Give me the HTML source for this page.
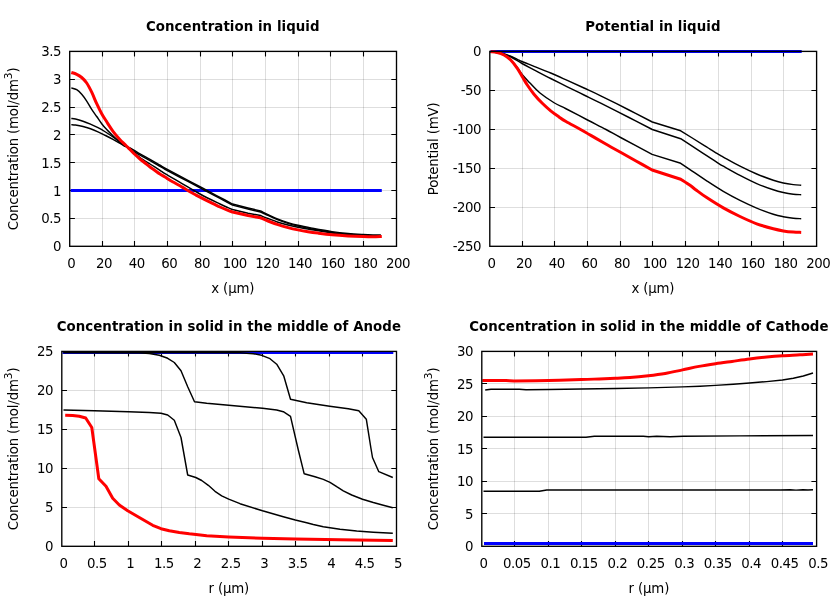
<!DOCTYPE html>
<html lang="en">
<head>
<meta charset="utf-8">
<title>Simulation results</title>
<style>
html,body{margin:0;padding:0;background:#fff;}
body{width:840px;height:600px;overflow:hidden;}
svg{display:block;}
svg text{font-family:"DejaVu Sans", "Liberation Sans", sans-serif;font-size:13.33px;fill:#000;}
svg text.t{letter-spacing:-0.45px;}
svg text.l{letter-spacing:-0.17px;}
svg text.h{letter-spacing:0.07px;}
</style>
</head>
<body>
<svg width="840" height="600" viewBox="0 0 840 600">
<rect width="840" height="600" fill="#fff"/>
<g>
<path d="M102.5,51.40V246.30M134.5,51.40V246.30M167.5,51.40V246.30M200.5,51.40V246.30M232.5,51.40V246.30M265.5,51.40V246.30M298.5,51.40V246.30M330.5,51.40V246.30M363.5,51.40V246.30" stroke="rgba(0,0,0,0.13)" stroke-width="1" fill="none"/>
<path d="M69.70,218.5H396.50M69.70,190.5H396.50M69.70,162.5H396.50M69.70,134.5H396.50M69.70,107.5H396.50M69.70,79.5H396.50" stroke="rgba(0,0,0,0.13)" stroke-width="1" fill="none"/>
<path d="M102.50,246.30v-5.2M102.50,51.40v5.2M134.50,246.30v-5.2M134.50,51.40v5.2M167.50,246.30v-5.2M167.50,51.40v5.2M200.50,246.30v-5.2M200.50,51.40v5.2M232.50,246.30v-5.2M232.50,51.40v5.2M265.50,246.30v-5.2M265.50,51.40v5.2M298.50,246.30v-5.2M298.50,51.40v5.2M330.50,246.30v-5.2M330.50,51.40v5.2M363.50,246.30v-5.2M363.50,51.40v5.2M69.70,218.50h5.2M396.50,218.50h-5.2M69.70,190.50h5.2M396.50,190.50h-5.2M69.70,162.50h5.2M396.50,162.50h-5.2M69.70,134.50h5.2M396.50,134.50h-5.2M69.70,107.50h5.2M396.50,107.50h-5.2M69.70,79.50h5.2M396.50,79.50h-5.2" stroke="#000" stroke-width="1.1" fill="none"/>
<path d="M70.6,190.5H381.8" stroke="#0000ff" stroke-width="3.0" fill="none" stroke-linejoin="round" stroke-linecap="butt"/>
<path d="M71.30,87.90 C72.20,88.20 74.97,88.63 76.70,89.70 C78.43,90.77 80.03,92.40 81.70,94.30 C83.37,96.20 85.03,98.58 86.70,101.10 C88.37,103.62 90.03,106.83 91.70,109.40 C93.37,111.97 95.03,114.12 96.70,116.50 C98.37,118.88 100.03,121.52 101.70,123.70 C103.37,125.88 105.03,127.80 106.70,129.60 C108.37,131.40 110.03,132.90 111.70,134.50 C113.37,136.10 115.03,137.73 116.70,139.20 C118.37,140.67 120.32,142.22 121.70,143.30 C123.08,144.38 123.07,144.20 125.00,145.70 C126.93,147.20 130.80,150.33 133.30,152.30 C135.80,154.27 137.22,155.55 140.00,157.50 C142.78,159.45 146.67,161.87 150.00,164.00 C153.33,166.13 157.50,168.68 160.00,170.30 C162.50,171.92 161.67,171.68 165.00,173.70 C168.33,175.72 174.17,179.02 180.00,182.40 C185.83,185.78 193.33,190.40 200.00,194.00 C206.67,197.60 215.33,201.72 220.00,204.00 C224.67,206.28 225.92,206.78 228.00,207.70 C230.08,208.62 231.75,209.20 232.50,209.50 L248.00,213.20 L260.50,215.50 C261.75,216.00 265.08,217.38 268.00,218.50 C270.92,219.62 274.67,221.12 278.00,222.20 C281.33,223.28 284.67,224.15 288.00,225.00 C291.33,225.85 294.00,226.52 298.00,227.30 C302.00,228.08 306.33,228.75 312.00,229.70 C317.67,230.65 326.00,232.13 332.00,233.00 C338.00,233.87 342.83,234.43 348.00,234.90 C353.17,235.37 357.52,235.62 363.00,235.80 C368.48,235.98 377.92,235.97 380.90,236.00" stroke="#000000" stroke-width="1.45" fill="none" stroke-linejoin="round" stroke-linecap="butt"/>
<path d="M71.30,118.50 C72.00,118.58 73.55,118.55 75.50,119.00 C77.45,119.45 80.50,120.33 83.00,121.20 C85.50,122.07 88.00,123.13 90.50,124.20 C93.00,125.27 95.50,126.30 98.00,127.60 C100.50,128.90 103.00,130.43 105.50,132.00 C108.00,133.57 110.50,135.23 113.00,137.00 C115.50,138.77 118.50,141.17 120.50,142.60 C122.50,144.03 123.42,144.52 125.00,145.60 C126.58,146.68 127.50,147.48 130.00,149.05 C132.50,150.62 136.67,153.13 140.00,155.05 C143.33,156.97 146.67,158.67 150.00,160.55 C153.33,162.43 157.50,164.90 160.00,166.35 C162.50,167.80 161.67,167.43 165.00,169.25 C168.33,171.07 174.17,174.15 180.00,177.25 C185.83,180.35 195.50,185.47 200.00,187.85 C204.50,190.23 203.67,189.78 207.00,191.55 C210.33,193.32 215.75,196.18 220.00,198.45 C224.25,200.72 230.42,204.03 232.50,205.15 L248.00,209.05 L260.50,212.05 C261.75,212.48 265.08,214.07 268.00,215.40 C270.92,216.73 274.67,218.57 278.00,219.90 C281.33,221.23 284.67,222.37 288.00,223.40 C291.33,224.43 294.00,225.18 298.00,226.10 C302.00,227.02 306.33,227.85 312.00,228.90 C317.67,229.95 326.00,231.50 332.00,232.40 C338.00,233.30 342.83,233.82 348.00,234.30 C353.17,234.78 358.83,235.07 363.00,235.30 C367.17,235.53 370.02,235.62 373.00,235.70 C375.98,235.78 379.58,235.78 380.90,235.80" stroke="#000000" stroke-width="1.45" fill="none" stroke-linejoin="round" stroke-linecap="butt"/>
<path d="M71.30,124.60 C72.00,124.67 73.55,124.68 75.50,125.00 C77.45,125.32 80.50,125.87 83.00,126.50 C85.50,127.13 88.00,127.92 90.50,128.80 C93.00,129.68 95.50,130.68 98.00,131.80 C100.50,132.92 103.00,134.23 105.50,135.50 C108.00,136.77 110.50,138.05 113.00,139.40 C115.50,140.75 118.50,142.45 120.50,143.60 C122.50,144.75 123.42,145.58 125.00,146.30 C126.58,147.03 127.50,146.67 130.00,147.95 C132.50,149.22 136.67,152.03 140.00,153.95 C143.33,155.87 146.67,157.57 150.00,159.45 C153.33,161.33 157.50,163.80 160.00,165.25 C162.50,166.70 161.67,166.33 165.00,168.15 C168.33,169.97 174.17,173.05 180.00,176.15 C185.83,179.25 195.50,184.37 200.00,186.75 C204.50,189.13 203.67,188.68 207.00,190.45 C210.33,192.22 215.75,195.08 220.00,197.35 C224.25,199.62 230.42,202.93 232.50,204.05 L248.00,207.95 L260.50,210.95 C261.75,211.68 265.08,213.27 268.00,214.60 C270.92,215.93 274.67,217.77 278.00,219.10 C281.33,220.43 284.67,221.57 288.00,222.60 C291.33,223.63 294.00,224.38 298.00,225.30 C302.00,226.22 306.33,227.05 312.00,228.10 C317.67,229.15 326.00,230.70 332.00,231.60 C338.00,232.50 342.83,233.02 348.00,233.50 C353.17,233.98 358.83,234.27 363.00,234.50 C367.17,234.73 370.02,234.82 373.00,234.90 C375.98,234.98 379.58,234.98 380.90,235.00" stroke="#000000" stroke-width="1.45" fill="none" stroke-linejoin="round" stroke-linecap="butt"/>
<path d="M71.30,72.50 C72.20,72.80 74.97,73.47 76.70,74.30 C78.43,75.13 80.03,76.05 81.70,77.50 C83.37,78.95 85.03,80.55 86.70,83.00 C88.37,85.45 90.03,88.75 91.70,92.20 C93.37,95.65 95.03,100.12 96.70,103.70 C98.37,107.28 100.03,110.68 101.70,113.70 C103.37,116.72 104.82,118.87 106.70,121.80 C108.58,124.73 110.78,128.32 113.00,131.30 C115.22,134.28 118.00,137.50 120.00,139.70 C122.00,141.90 123.33,142.87 125.00,144.50 C126.67,146.13 128.33,147.83 130.00,149.50 C131.67,151.17 133.33,152.92 135.00,154.50 C136.67,156.08 138.33,157.58 140.00,159.00 C141.67,160.42 143.33,161.67 145.00,163.00 C146.67,164.33 148.33,165.75 150.00,167.00 C151.67,168.25 153.33,169.33 155.00,170.50 C156.67,171.67 158.33,172.92 160.00,174.00 C161.67,175.08 163.33,175.95 165.00,177.00 C166.67,178.05 168.33,179.30 170.00,180.30 C171.67,181.30 173.33,182.08 175.00,183.00 C176.67,183.92 178.33,184.83 180.00,185.80 C181.67,186.77 183.33,187.82 185.00,188.80 C186.67,189.78 188.33,190.75 190.00,191.70 C191.67,192.65 193.33,193.58 195.00,194.50 C196.67,195.42 197.50,195.92 200.00,197.20 C202.50,198.48 206.67,200.57 210.00,202.20 C213.33,203.83 217.00,205.65 220.00,207.00 C223.00,208.35 225.92,209.47 228.00,210.30 C230.08,211.13 231.75,211.72 232.50,212.00 L248.00,215.50 L260.50,217.80 C261.75,218.33 265.08,219.85 268.00,221.00 C270.92,222.15 274.67,223.60 278.00,224.70 C281.33,225.80 284.67,226.73 288.00,227.60 C291.33,228.47 294.67,229.22 298.00,229.90 C301.33,230.58 304.67,231.17 308.00,231.70 C311.33,232.23 314.00,232.60 318.00,233.10 C322.00,233.60 327.00,234.23 332.00,234.70 C337.00,235.17 342.83,235.58 348.00,235.90 C353.17,236.22 358.83,236.45 363.00,236.60 C367.17,236.75 369.87,236.82 373.00,236.80 C376.13,236.78 380.33,236.55 381.80,236.50" stroke="#ff0000" stroke-width="3.0" fill="none" stroke-linejoin="round" stroke-linecap="butt"/>
<rect x="69.70" y="51.40" width="326.80" height="194.90" stroke="#000" stroke-width="1.35" fill="none"/>
<text class="t" x="71.30" y="267.80" text-anchor="middle">0</text>
<text class="t" x="103.98" y="267.80" text-anchor="middle">20</text>
<text class="t" x="136.66" y="267.80" text-anchor="middle">40</text>
<text class="t" x="169.34" y="267.80" text-anchor="middle">60</text>
<text class="t" x="202.02" y="267.80" text-anchor="middle">80</text>
<text class="t" x="234.70" y="267.80" text-anchor="middle">100</text>
<text class="t" x="267.38" y="267.80" text-anchor="middle">120</text>
<text class="t" x="300.06" y="267.80" text-anchor="middle">140</text>
<text class="t" x="332.74" y="267.80" text-anchor="middle">160</text>
<text class="t" x="365.42" y="267.80" text-anchor="middle">180</text>
<text class="t" x="398.10" y="267.80" text-anchor="middle">200</text>
<text class="t" x="61.00" y="251" text-anchor="end">0</text>
<text class="t" x="61.00" y="223" text-anchor="end">0.5</text>
<text class="t" x="61.00" y="196" text-anchor="end">1</text>
<text class="t" x="61.00" y="168" text-anchor="end">1.5</text>
<text class="t" x="61.00" y="140" text-anchor="end">2</text>
<text class="t" x="61.00" y="112" text-anchor="end">2.5</text>
<text class="t" x="61.00" y="84" text-anchor="end">3</text>
<text class="t" x="61.00" y="56" text-anchor="end">3.5</text>
<text class="h" x="232.80" y="30.70" text-anchor="middle" font-weight="bold">Concentration in liquid</text>
<text class="l" x="232.80" y="293.40" text-anchor="middle">x (µm)</text>
<text class="l" transform="translate(17.50,148.85) rotate(-90)" text-anchor="middle">Concentration (mol/dm<tspan dy="-5.6" font-size="10.67">3</tspan><tspan dy="5.6">)</tspan></text>
</g>
<g>
<path d="M522.5,51.40V246.30M554.5,51.40V246.30M587.5,51.40V246.30M620.5,51.40V246.30M652.5,51.40V246.30M685.5,51.40V246.30M718.5,51.40V246.30M751.5,51.40V246.30M783.5,51.40V246.30" stroke="rgba(0,0,0,0.13)" stroke-width="1" fill="none"/>
<path d="M489.80,207.5H816.60M489.80,168.5H816.60M489.80,129.5H816.60M489.80,90.5H816.60" stroke="rgba(0,0,0,0.13)" stroke-width="1" fill="none"/>
<path d="M522.50,246.30v-5.2M522.50,51.40v5.2M554.50,246.30v-5.2M554.50,51.40v5.2M587.50,246.30v-5.2M587.50,51.40v5.2M620.50,246.30v-5.2M620.50,51.40v5.2M652.50,246.30v-5.2M652.50,51.40v5.2M685.50,246.30v-5.2M685.50,51.40v5.2M718.50,246.30v-5.2M718.50,51.40v5.2M751.50,246.30v-5.2M751.50,51.40v5.2M783.50,246.30v-5.2M783.50,51.40v5.2M489.80,207.50h5.2M816.60,207.50h-5.2M489.80,168.50h5.2M816.60,168.50h-5.2M489.80,129.50h5.2M816.60,129.50h-5.2M489.80,90.50h5.2M816.60,90.50h-5.2" stroke="#000" stroke-width="1.1" fill="none"/>
<path d="M490.5,51.45H801.7" stroke="#0000ff" stroke-width="3.0" fill="none" stroke-linejoin="round" stroke-linecap="butt"/>
<path d="M490.70,51.70 C492.37,51.92 497.48,52.28 500.70,53.00 C503.92,53.72 507.23,54.95 510.00,56.00 C512.77,57.05 515.30,58.38 517.30,59.30 C519.30,60.22 519.22,60.33 522.00,61.50 C524.78,62.67 529.22,64.38 534.00,66.30 C538.78,68.22 545.15,70.65 550.70,73.00 C556.25,75.35 561.75,77.90 567.30,80.40 C572.85,82.90 578.43,85.43 584.00,88.00 C589.57,90.57 593.20,92.13 600.70,95.80 C608.20,99.47 620.40,105.63 629.00,110.00 C637.60,114.37 648.42,120.00 652.30,122.00 L680.70,130.80 C684.58,133.22 699.12,142.25 704.00,145.30 C708.88,148.35 707.58,147.58 710.00,149.10 C712.42,150.62 716.28,153.07 718.50,154.40 C720.72,155.73 719.72,155.13 723.30,157.10 C726.88,159.07 734.43,163.38 740.00,166.20 C745.57,169.02 751.15,171.67 756.70,174.00 C762.25,176.33 768.87,178.70 773.30,180.20 C777.73,181.70 779.97,182.27 783.30,183.00 C786.63,183.73 790.32,184.23 793.30,184.60 C796.28,184.97 799.88,185.10 801.20,185.20" stroke="#000000" stroke-width="1.45" fill="none" stroke-linejoin="round" stroke-linecap="butt"/>
<path d="M490.70,51.70 C492.37,51.97 497.48,52.50 500.70,53.30 C503.92,54.10 506.45,54.80 510.00,56.50 C513.55,58.20 518.00,61.28 522.00,63.50 C526.00,65.72 529.22,67.30 534.00,69.80 C538.78,72.30 545.15,75.67 550.70,78.50 C556.25,81.33 561.75,84.05 567.30,86.80 C572.85,89.55 578.43,92.27 584.00,95.00 C589.57,97.73 593.20,99.45 600.70,103.20 C608.20,106.95 620.40,113.12 629.00,117.50 C637.60,121.88 648.42,127.50 652.30,129.50 L680.70,138.70 C683.37,140.45 692.37,146.37 696.70,149.20 C701.03,152.03 703.07,153.33 706.70,155.70 C710.33,158.07 715.73,161.65 718.50,163.40 C721.27,165.15 719.72,164.20 723.30,166.20 C726.88,168.20 734.43,172.50 740.00,175.40 C745.57,178.30 751.15,181.20 756.70,183.60 C762.25,186.00 768.87,188.32 773.30,189.80 C777.73,191.28 779.97,191.77 783.30,192.50 C786.63,193.23 790.32,193.83 793.30,194.20 C796.28,194.57 799.88,194.62 801.20,194.70" stroke="#000000" stroke-width="1.45" fill="none" stroke-linejoin="round" stroke-linecap="butt"/>
<path d="M490.70,51.70 C491.80,51.83 495.08,51.95 497.30,52.50 C499.52,53.05 501.77,53.75 504.00,55.00 C506.23,56.25 508.48,57.92 510.70,60.00 C512.92,62.08 515.25,64.92 517.30,67.50 C519.35,70.08 520.88,72.92 523.00,75.50 C525.12,78.08 527.17,80.08 530.00,83.00 C532.83,85.92 535.92,89.67 540.00,93.00 C544.08,96.33 550.17,100.38 554.50,103.00 C558.83,105.62 560.50,105.92 566.00,108.75 C571.50,111.58 580.83,116.54 587.50,120.00 C594.17,123.46 600.48,126.58 606.00,129.50 C611.52,132.42 612.92,133.35 620.60,137.50 C628.28,141.65 646.85,151.58 652.10,154.40 L680.70,163.30 C682.25,164.35 685.67,166.67 690.00,169.60 C694.33,172.53 701.15,177.27 706.70,180.90 C712.25,184.53 717.75,188.15 723.30,191.40 C728.85,194.65 734.43,197.62 740.00,200.40 C745.57,203.18 751.15,205.80 756.70,208.10 C762.25,210.40 768.87,212.77 773.30,214.20 C777.73,215.63 779.97,216.03 783.30,216.70 C786.63,217.37 790.32,217.87 793.30,218.20 C796.28,218.53 799.88,218.62 801.20,218.70" stroke="#000000" stroke-width="1.45" fill="none" stroke-linejoin="round" stroke-linecap="butt"/>
<path d="M490.70,51.70 C491.80,51.83 495.08,51.95 497.30,52.50 C499.52,53.05 501.77,53.75 504.00,55.00 C506.23,56.25 508.48,57.78 510.70,60.00 C512.92,62.22 515.37,65.52 517.30,68.30 C519.23,71.08 520.63,73.92 522.30,76.70 C523.97,79.48 525.35,82.08 527.30,85.00 C529.25,87.92 531.50,91.15 534.00,94.20 C536.50,97.25 539.52,100.53 542.30,103.30 C545.08,106.07 547.92,108.53 550.70,110.80 C553.48,113.07 556.45,115.12 559.00,116.90 C561.55,118.68 562.33,119.37 566.00,121.50 C569.67,123.63 576.00,126.88 581.00,129.70 C586.00,132.52 591.50,135.80 596.00,138.40 C600.50,141.00 603.92,142.98 608.00,145.30 C612.08,147.62 615.83,149.68 620.50,152.30 C625.17,154.92 630.73,158.05 636.00,161.00 C641.27,163.95 649.42,168.50 652.10,170.00 L680.70,179.20 C682.25,180.22 687.50,183.55 690.00,185.30 C692.50,187.05 692.92,187.65 695.70,189.70 C698.48,191.75 702.10,194.57 706.70,197.60 C711.30,200.63 717.75,204.75 723.30,207.90 C728.85,211.05 734.43,213.85 740.00,216.50 C745.57,219.15 751.15,221.75 756.70,223.80 C762.25,225.85 768.87,227.62 773.30,228.80 C777.73,229.98 779.97,230.35 783.30,230.90 C786.63,231.45 790.32,231.85 793.30,232.10 C796.28,232.35 799.88,232.35 801.20,232.40" stroke="#ff0000" stroke-width="3.0" fill="none" stroke-linejoin="round" stroke-linecap="butt"/>
<rect x="489.80" y="51.40" width="326.80" height="194.90" stroke="#000" stroke-width="1.35" fill="none"/>
<text class="t" x="491.40" y="267.80" text-anchor="middle">0</text>
<text class="t" x="524.08" y="267.80" text-anchor="middle">20</text>
<text class="t" x="556.76" y="267.80" text-anchor="middle">40</text>
<text class="t" x="589.44" y="267.80" text-anchor="middle">60</text>
<text class="t" x="622.12" y="267.80" text-anchor="middle">80</text>
<text class="t" x="654.80" y="267.80" text-anchor="middle">100</text>
<text class="t" x="687.48" y="267.80" text-anchor="middle">120</text>
<text class="t" x="720.16" y="267.80" text-anchor="middle">140</text>
<text class="t" x="752.84" y="267.80" text-anchor="middle">160</text>
<text class="t" x="785.52" y="267.80" text-anchor="middle">180</text>
<text class="t" x="818.20" y="267.80" text-anchor="middle">200</text>
<text class="t" x="481.10" y="251" text-anchor="end">-250</text>
<text class="t" x="481.10" y="212" text-anchor="end">-200</text>
<text class="t" x="481.10" y="173" text-anchor="end">-150</text>
<text class="t" x="481.10" y="134" text-anchor="end">-100</text>
<text class="t" x="481.10" y="95" text-anchor="end">-50</text>
<text class="t" x="481.10" y="56" text-anchor="end">0</text>
<text class="h" x="652.90" y="30.70" text-anchor="middle" font-weight="bold">Potential in liquid</text>
<text class="l" x="652.90" y="293.40" text-anchor="middle">x (µm)</text>
<text class="l" transform="translate(437.50,148.85) rotate(-90)" text-anchor="middle">Potential (mV)</text>
</g>
<g>
<path d="M94.5,351.40V546.30M128.5,351.40V546.30M161.5,351.40V546.30M195.5,351.40V546.30M228.5,351.40V546.30M262.5,351.40V546.30M295.5,351.40V546.30M329.5,351.40V546.30M362.5,351.40V546.30" stroke="rgba(0,0,0,0.13)" stroke-width="1" fill="none"/>
<path d="M61.80,507.5H396.50M61.80,468.5H396.50M61.80,429.5H396.50M61.80,390.5H396.50" stroke="rgba(0,0,0,0.13)" stroke-width="1" fill="none"/>
<path d="M94.50,546.30v-5.2M94.50,351.40v5.2M128.50,546.30v-5.2M128.50,351.40v5.2M161.50,546.30v-5.2M161.50,351.40v5.2M195.50,546.30v-5.2M195.50,351.40v5.2M228.50,546.30v-5.2M228.50,351.40v5.2M262.50,546.30v-5.2M262.50,351.40v5.2M295.50,546.30v-5.2M295.50,351.40v5.2M329.50,546.30v-5.2M329.50,351.40v5.2M362.50,546.30v-5.2M362.50,351.40v5.2M61.80,507.50h5.2M396.50,507.50h-5.2M61.80,468.50h5.2M396.50,468.50h-5.2M61.80,429.50h5.2M396.50,429.50h-5.2M61.80,390.50h5.2M396.50,390.50h-5.2" stroke="#000" stroke-width="1.1" fill="none"/>
<path d="M62.5,352.55H393.3" stroke="#0000ff" stroke-width="3.0" fill="none" stroke-linejoin="round" stroke-linecap="butt"/>
<path d="M63.50,352.60 L139.00,352.80 L149.30,353.50 L159.30,355.30 L167.70,358.30 L174.30,362.50 L181.00,370.80 L187.70,386.70 L194.50,401.70 L206.70,403.30 L228.70,405.30 L262.50,408.30 L276.70,410.00 L283.30,411.70 L290.50,416.30 L298.30,450.00 L304.20,473.80 L315.00,476.70 L323.30,479.40 L330.00,482.30 L336.70,486.70 L343.30,490.80 L351.70,495.00 L362.50,499.20 L373.30,502.50 L383.30,505.30 L392.80,507.80" stroke="#000000" stroke-width="1.45" fill="none" stroke-linejoin="round" stroke-linecap="butt"/>
<path d="M63.50,352.60 L240.00,352.80 L253.30,353.70 L261.70,355.30 L270.00,358.70 L276.70,364.20 L283.70,375.80 L290.50,399.20 L306.70,402.70 L329.70,406.30 L348.30,408.80 L358.80,410.80 L366.30,419.20 L370.80,447.50 L372.50,457.50 L378.80,471.70 L392.80,477.50" stroke="#000000" stroke-width="1.45" fill="none" stroke-linejoin="round" stroke-linecap="butt"/>
<path d="M63.50,410.00 L94.30,410.80 L128.50,411.70 L149.30,412.50 L161.00,413.30 L167.70,415.00 L174.30,420.30 L181.00,437.50 L187.70,475.00 L195.80,477.50 L201.70,480.50 L208.30,485.30 L215.00,491.30 L221.70,495.80 L228.70,499.20 L240.00,503.70 L262.50,510.80 L283.30,516.70 L295.30,520.00 L306.70,522.70 L313.30,524.50 L323.30,526.70 L340.00,529.20 L356.70,531.00 L373.30,532.20 L392.80,533.20" stroke="#000000" stroke-width="1.45" fill="none" stroke-linejoin="round" stroke-linecap="butt"/>
<path d="M65.20,415.30 L72.70,415.50 L79.30,416.30 L85.70,418.00 L91.80,427.50 L98.80,478.70 L106.00,486.30 L112.70,498.30 L119.30,505.00 L127.70,510.80 L139.30,517.50 L152.70,525.30 L161.00,528.70 L169.30,530.80 L179.30,532.50 L189.30,533.80 L196.00,534.50 L206.70,535.80 L228.70,537.00 L262.50,538.20 L295.30,539.00 L340.00,539.70 L392.80,540.50" stroke="#ff0000" stroke-width="3.0" fill="none" stroke-linejoin="round" stroke-linecap="butt"/>
<rect x="61.80" y="351.40" width="334.70" height="194.90" stroke="#000" stroke-width="1.35" fill="none"/>
<text class="t" x="63.40" y="567.80" text-anchor="middle">0</text>
<text class="t" x="96.87" y="567.80" text-anchor="middle">0.5</text>
<text class="t" x="130.34" y="567.80" text-anchor="middle">1</text>
<text class="t" x="163.81" y="567.80" text-anchor="middle">1.5</text>
<text class="t" x="197.28" y="567.80" text-anchor="middle">2</text>
<text class="t" x="230.75" y="567.80" text-anchor="middle">2.5</text>
<text class="t" x="264.22" y="567.80" text-anchor="middle">3</text>
<text class="t" x="297.69" y="567.80" text-anchor="middle">3.5</text>
<text class="t" x="331.16" y="567.80" text-anchor="middle">4</text>
<text class="t" x="364.63" y="567.80" text-anchor="middle">4.5</text>
<text class="t" x="398.10" y="567.80" text-anchor="middle">5</text>
<text class="t" x="53.10" y="551" text-anchor="end">0</text>
<text class="t" x="53.10" y="512" text-anchor="end">5</text>
<text class="t" x="53.10" y="473" text-anchor="end">10</text>
<text class="t" x="53.10" y="434" text-anchor="end">15</text>
<text class="t" x="53.10" y="395" text-anchor="end">20</text>
<text class="t" x="53.10" y="356" text-anchor="end">25</text>
<text class="h" x="228.85" y="330.70" text-anchor="middle" font-weight="bold">Concentration in solid in the middle of Anode</text>
<text class="l" x="228.85" y="593.40" text-anchor="middle">r (µm)</text>
<text class="l" transform="translate(17.50,448.85) rotate(-90)" text-anchor="middle">Concentration (mol/dm<tspan dy="-5.6" font-size="10.67">3</tspan><tspan dy="5.6">)</tspan></text>
</g>
<g>
<path d="M514.5,351.40V546.30M548.5,351.40V546.30M581.5,351.40V546.30M615.5,351.40V546.30M648.5,351.40V546.30M682.5,351.40V546.30M715.5,351.40V546.30M749.5,351.40V546.30M782.5,351.40V546.30" stroke="rgba(0,0,0,0.13)" stroke-width="1" fill="none"/>
<path d="M481.80,513.5H816.60M481.80,481.5H816.60M481.80,448.5H816.60M481.80,416.5H816.60M481.80,383.5H816.60" stroke="rgba(0,0,0,0.13)" stroke-width="1" fill="none"/>
<path d="M514.50,546.30v-5.2M514.50,351.40v5.2M548.50,546.30v-5.2M548.50,351.40v5.2M581.50,546.30v-5.2M581.50,351.40v5.2M615.50,546.30v-5.2M615.50,351.40v5.2M648.50,546.30v-5.2M648.50,351.40v5.2M682.50,546.30v-5.2M682.50,351.40v5.2M715.50,546.30v-5.2M715.50,351.40v5.2M749.50,546.30v-5.2M749.50,351.40v5.2M782.50,546.30v-5.2M782.50,351.40v5.2M481.80,513.50h5.2M816.60,513.50h-5.2M481.80,481.50h5.2M816.60,481.50h-5.2M481.80,448.50h5.2M816.60,448.50h-5.2M481.80,416.50h5.2M816.60,416.50h-5.2M481.80,383.50h5.2M816.60,383.50h-5.2" stroke="#000" stroke-width="1.1" fill="none"/>
<path d="M484,543.6H813" stroke="#0000ff" stroke-width="3.0" fill="none" stroke-linejoin="round" stroke-linecap="butt"/>
<path d="M485.20,390.00 L491.00,389.30 L519.30,389.30 L526.00,389.80 L548.50,389.50 L581.30,389.00 L616.00,388.50 L648.70,387.90 L682.50,386.90 L700.00,386.20 L715.50,385.40 L733.30,384.20 L749.50,383.00 L766.70,381.60 L782.50,380.00 L793.30,378.30 L803.30,376.00 L813.00,373.00" stroke="#000000" stroke-width="1.45" fill="none" stroke-linejoin="round" stroke-linecap="butt"/>
<path d="M483.50,437.20 L586.00,437.20 L594.30,436.30 L643.30,436.30 L648.70,436.70 L656.70,436.20 L670.00,436.70 L683.30,436.20 L740.00,435.90 L813.00,435.50" stroke="#000000" stroke-width="1.45" fill="none" stroke-linejoin="round" stroke-linecap="butt"/>
<path d="M483.50,491.20 L539.30,491.20 L546.80,490.00 L780.00,490.00 L790.00,489.80 L796.00,490.10 L803.00,489.70 L808.00,490.00 L813.00,489.80" stroke="#000000" stroke-width="1.45" fill="none" stroke-linejoin="round" stroke-linecap="butt"/>
<path d="M482.30,380.40 C486.25,380.43 500.60,380.52 506.00,380.60 C511.40,380.68 507.62,380.93 514.70,380.90 C521.78,380.87 537.40,380.62 548.50,380.40 C559.60,380.18 572.83,379.85 581.30,379.60 C589.77,379.35 593.60,379.12 599.30,378.90 C605.00,378.68 610.38,378.53 615.50,378.30 C620.62,378.07 624.53,377.93 630.00,377.50 C635.47,377.07 642.43,376.38 648.30,375.70 C654.17,375.02 659.50,374.37 665.20,373.40 C670.90,372.43 676.87,371.07 682.50,369.90 C688.13,368.73 693.50,367.43 699.00,366.40 C704.50,365.37 710.00,364.53 715.50,363.70 C721.00,362.87 726.33,362.18 732.00,361.40 C737.67,360.62 743.72,359.72 749.50,359.00 C755.28,358.28 761.20,357.63 766.70,357.10 C772.20,356.57 776.95,356.18 782.50,355.80 C788.05,355.42 794.92,355.12 800.00,354.80 C805.08,354.48 810.83,354.05 813.00,353.90" stroke="#ff0000" stroke-width="3.0" fill="none" stroke-linejoin="round" stroke-linecap="butt"/>
<rect x="481.80" y="351.40" width="334.80" height="194.90" stroke="#000" stroke-width="1.35" fill="none"/>
<text class="t" x="483.40" y="567.80" text-anchor="middle">0</text>
<text class="t" x="516.88" y="567.80" text-anchor="middle">0.05</text>
<text class="t" x="550.36" y="567.80" text-anchor="middle">0.1</text>
<text class="t" x="583.84" y="567.80" text-anchor="middle">0.15</text>
<text class="t" x="617.32" y="567.80" text-anchor="middle">0.2</text>
<text class="t" x="650.80" y="567.80" text-anchor="middle">0.25</text>
<text class="t" x="684.28" y="567.80" text-anchor="middle">0.3</text>
<text class="t" x="717.76" y="567.80" text-anchor="middle">0.35</text>
<text class="t" x="751.24" y="567.80" text-anchor="middle">0.4</text>
<text class="t" x="784.72" y="567.80" text-anchor="middle">0.45</text>
<text class="t" x="818.20" y="567.80" text-anchor="middle">0.5</text>
<text class="t" x="473.10" y="551" text-anchor="end">0</text>
<text class="t" x="473.10" y="519" text-anchor="end">5</text>
<text class="t" x="473.10" y="486" text-anchor="end">10</text>
<text class="t" x="473.10" y="454" text-anchor="end">15</text>
<text class="t" x="473.10" y="421" text-anchor="end">20</text>
<text class="t" x="473.10" y="389" text-anchor="end">25</text>
<text class="t" x="473.10" y="356" text-anchor="end">30</text>
<text class="h" x="648.90" y="330.70" text-anchor="middle" font-weight="bold">Concentration in solid in the middle of Cathode</text>
<text class="l" x="648.90" y="593.40" text-anchor="middle">r (µm)</text>
<text class="l" transform="translate(437.50,448.85) rotate(-90)" text-anchor="middle">Concentration (mol/dm<tspan dy="-5.6" font-size="10.67">3</tspan><tspan dy="5.6">)</tspan></text>
</g>
</svg>
</body>
</html>
